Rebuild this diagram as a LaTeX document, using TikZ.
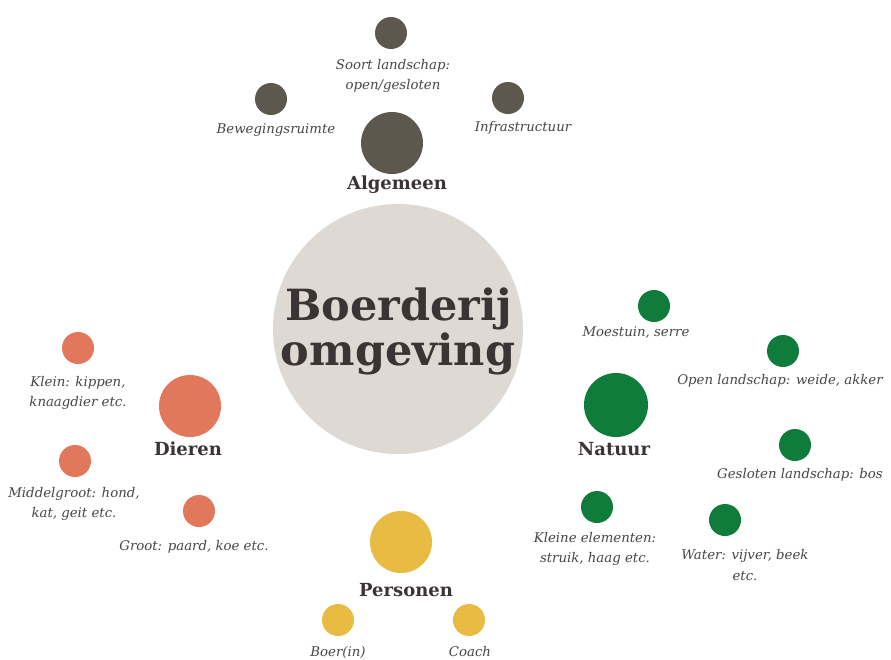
\documentclass[tikz,border=0pt]{standalone}
\usepackage{fontspec}
\setmainfont{DejaVu Serif}
\definecolor{hubfill}{HTML}{DEDAD3}
\definecolor{txt}{HTML}{3B3434}
\definecolor{lbl}{HTML}{4A4545}
\definecolor{algc}{HTML}{5E574E}
\definecolor{dierc}{HTML}{E2785B}
\definecolor{natc}{HTML}{107C3B}
\definecolor{perc}{HTML}{E8BC42}
\tikzset{
  dot/.style={circle, inner sep=0pt, minimum size=32pt, fill=#1},
  bigdot/.style={circle, inner sep=0pt, minimum size=62pt, fill=#1},
  lab/.style={text=lbl, font=\fontsize{13.3}{20.5}\selectfont\itshape, align=center, inner sep=0pt},
  head/.style={text=txt, font=\fontsize{18}{20}\selectfont\bfseries, inner sep=0pt},
  hubtext/.style={text=txt, font=\fontsize{43}{46}\selectfont\bfseries, inner sep=0pt, anchor=base},
}
\begin{document}
\begin{tikzpicture}[x=1pt,y=-1pt]
\useasboundingbox (0,0) rectangle (891,659);
\fill[white] (0,0) rectangle (891,659);
% hub
\node[circle, fill=hubfill, minimum size=250pt, inner sep=0pt] (hub) at (398,329) {};
\node[hubtext] (hubtxt1) at (399,320) {Boerderij};
\node[hubtext] (hubtxt2) at (398,365) {omgeving};
% Algemeen
\node[bigdot=algc] (alg) at (392,143) {};
\node[head] (algt) at (397,185) {Algemeen};
\node[dot=algc] (a1) at (391,33) {};
\node[lab] (a1t) at (393,76) {Soort landschap:\\open/gesloten};
\node[dot=algc] (a2) at (271,99) {};
\node[lab] (a2t) at (276,130) {Bewegingsruimte};
\node[dot=algc] (a3) at (508,98) {};
\node[lab] (a3t) at (523,128) {Infrastructuur};
% Dieren
\node[bigdot=dierc] (die) at (190,406) {};
\node[head] (diet) at (188,449) {Dieren};
\node[dot=dierc] (d1) at (78,348) {};
\node[lab] (d1t) at (78,393) {Klein: kippen,\\knaagdier etc.};
\node[dot=dierc] (d2) at (75,461) {};
\node[lab] (d2t) at (74,504) {Middelgroot: hond,\\kat, geit etc.};
\node[dot=dierc] (d3) at (199,511) {};
\node[lab] (d3t) at (194,547) {Groot: paard, koe etc.};
% Natuur
\node[bigdot=natc, minimum size=64pt] (nat) at (616,405) {};
\node[head] (natt) at (614,449) {Natuur};
\node[dot=natc] (n1) at (654,306) {};
\node[lab] (n1t) at (636,333) {Moestuin, serre};
\node[dot=natc] (n2) at (783,351) {};
\node[lab] (n2t) at (780,381) {Open landschap: weide, akker};
\node[dot=natc] (n3) at (795,445) {};
\node[lab] (n3t) at (800,475) {Gesloten landschap: bos};
\node[dot=natc] (n4) at (597,507) {};
\node[lab] (n4t) at (595,549) {Kleine elementen:\\struik, haag etc.};
\node[dot=natc] (n5) at (725,520) {};
\node[lab] (n5t) at (745,565) {Water: vijver, beek\\etc.};
% Personen
\node[bigdot=perc] (per) at (401,542) {};
\node[head] (pert) at (406,590) {Personen};
\node[dot=perc] (p1) at (338,620) {};
\node[lab] (p1t) at (338,652) {Boer(in)};
\node[dot=perc] (p2) at (469,620) {};
\node[lab] (p2t) at (470,652) {Coach};
\end{tikzpicture}
\end{document}
